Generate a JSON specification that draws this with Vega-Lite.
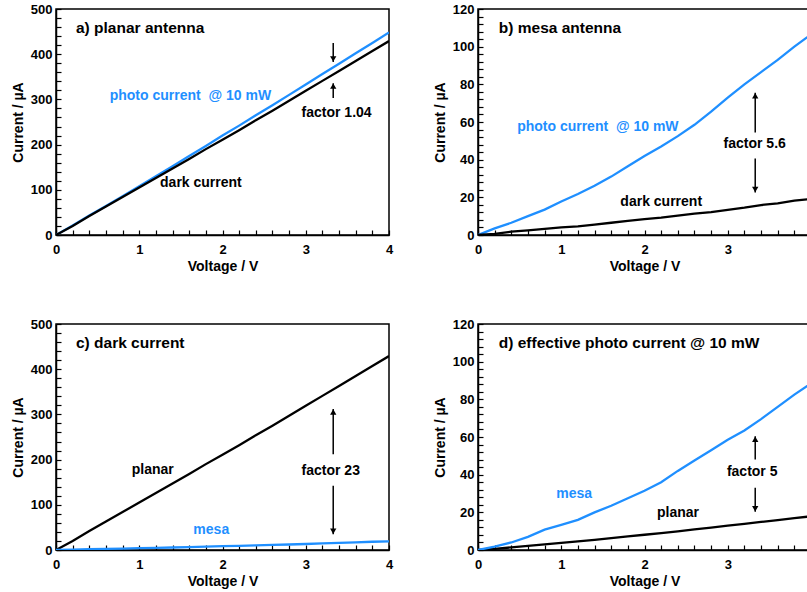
{
  "$schema": "https://vega.github.io/schema/vega-lite/v6.json",
  "padding": {"left": 10, "top": 2, "right": 0, "bottom": 0},
  "background": "white",
  "config": {
    "view": {"stroke": "black", "strokeWidth": 1.5},
    "axis": {
      "domainColor": "black", "domainWidth": 1.5, "tickColor": "black", "tickWidth": 1.2, "tickSize": -5, "tickCount": 60,
      "labelFont": "Liberation Sans", "labelFontWeight": "bold", "labelFontSize": 13, "labelColor": "black",
      "titleFont": "Liberation Sans", "titleFontWeight": "bold", "titleFontSize": 14, "titleColor": "black",
      "grid": false, "labelOverlap": false, "labelBound": false, "labelFlush": false
    },
    "axisX": {"labelPadding": 13, "titlePadding": 3},
    "axisY": {"labelPadding": 9, "titlePadding": 5}
  },
  "datasets": {
    "iv": [
      {"device":"planar","kind":"photo","V":0,"I":0},{"device":"planar","kind":"photo","V":0.2,"I":21},{"device":"planar","kind":"photo","V":0.4,"I":43},{"device":"planar","kind":"photo","V":0.6,"I":64},{"device":"planar","kind":"photo","V":0.8,"I":86},{"device":"planar","kind":"photo","V":1,"I":108},{"device":"planar","kind":"photo","V":1.2,"I":130},{"device":"planar","kind":"photo","V":1.4,"I":152},{"device":"planar","kind":"photo","V":1.6,"I":175},{"device":"planar","kind":"photo","V":1.8,"I":197},{"device":"planar","kind":"photo","V":2,"I":220},{"device":"planar","kind":"photo","V":2.2,"I":242},{"device":"planar","kind":"photo","V":2.4,"I":265},{"device":"planar","kind":"photo","V":2.6,"I":287},{"device":"planar","kind":"photo","V":2.8,"I":310},{"device":"planar","kind":"photo","V":3,"I":333},{"device":"planar","kind":"photo","V":3.2,"I":356},{"device":"planar","kind":"photo","V":3.4,"I":379},{"device":"planar","kind":"photo","V":3.6,"I":402},{"device":"planar","kind":"photo","V":3.8,"I":425},{"device":"planar","kind":"photo","V":4,"I":448},
      {"device":"planar","kind":"dark","V":0,"I":0},{"device":"planar","kind":"dark","V":0.2,"I":20},{"device":"planar","kind":"dark","V":0.4,"I":42},{"device":"planar","kind":"dark","V":0.6,"I":63},{"device":"planar","kind":"dark","V":0.8,"I":84},{"device":"planar","kind":"dark","V":1,"I":105},{"device":"planar","kind":"dark","V":1.2,"I":126},{"device":"planar","kind":"dark","V":1.4,"I":147},{"device":"planar","kind":"dark","V":1.6,"I":168},{"device":"planar","kind":"dark","V":1.8,"I":190},{"device":"planar","kind":"dark","V":2,"I":211},{"device":"planar","kind":"dark","V":2.2,"I":232},{"device":"planar","kind":"dark","V":2.4,"I":254},{"device":"planar","kind":"dark","V":2.6,"I":275},{"device":"planar","kind":"dark","V":2.8,"I":297},{"device":"planar","kind":"dark","V":3,"I":319},{"device":"planar","kind":"dark","V":3.2,"I":341},{"device":"planar","kind":"dark","V":3.4,"I":363},{"device":"planar","kind":"dark","V":3.6,"I":385},{"device":"planar","kind":"dark","V":3.8,"I":407},{"device":"planar","kind":"dark","V":4,"I":429},
      {"device":"mesa","kind":"photo","V":0,"I":0},{"device":"mesa","kind":"photo","V":0.2,"I":3.5},{"device":"mesa","kind":"photo","V":0.4,"I":6.5},{"device":"mesa","kind":"photo","V":0.6,"I":10},{"device":"mesa","kind":"photo","V":0.8,"I":13.5},{"device":"mesa","kind":"photo","V":1,"I":17.8},{"device":"mesa","kind":"photo","V":1.2,"I":21.8},{"device":"mesa","kind":"photo","V":1.4,"I":26.2},{"device":"mesa","kind":"photo","V":1.6,"I":31},{"device":"mesa","kind":"photo","V":1.8,"I":36.5},{"device":"mesa","kind":"photo","V":2,"I":42},{"device":"mesa","kind":"photo","V":2.2,"I":47},{"device":"mesa","kind":"photo","V":2.4,"I":52.5},{"device":"mesa","kind":"photo","V":2.6,"I":58.5},{"device":"mesa","kind":"photo","V":2.8,"I":65.5},{"device":"mesa","kind":"photo","V":3,"I":73},{"device":"mesa","kind":"photo","V":3.2,"I":80},{"device":"mesa","kind":"photo","V":3.4,"I":86.5},{"device":"mesa","kind":"photo","V":3.6,"I":93},{"device":"mesa","kind":"photo","V":3.8,"I":100},{"device":"mesa","kind":"photo","V":4,"I":106.5},
      {"device":"mesa","kind":"dark","V":0,"I":0},{"device":"mesa","kind":"dark","V":0.2,"I":0.6},{"device":"mesa","kind":"dark","V":0.4,"I":1.8},{"device":"mesa","kind":"dark","V":0.6,"I":2.5},{"device":"mesa","kind":"dark","V":0.8,"I":3.2},{"device":"mesa","kind":"dark","V":1,"I":4},{"device":"mesa","kind":"dark","V":1.2,"I":4.6},{"device":"mesa","kind":"dark","V":1.4,"I":5.5},{"device":"mesa","kind":"dark","V":1.6,"I":6.5},{"device":"mesa","kind":"dark","V":1.8,"I":7.5},{"device":"mesa","kind":"dark","V":2,"I":8.4},{"device":"mesa","kind":"dark","V":2.2,"I":9.2},{"device":"mesa","kind":"dark","V":2.4,"I":10.3},{"device":"mesa","kind":"dark","V":2.6,"I":11.3},{"device":"mesa","kind":"dark","V":2.8,"I":12.2},{"device":"mesa","kind":"dark","V":3,"I":13.3},{"device":"mesa","kind":"dark","V":3.2,"I":14.5},{"device":"mesa","kind":"dark","V":3.4,"I":15.9},{"device":"mesa","kind":"dark","V":3.6,"I":16.8},{"device":"mesa","kind":"dark","V":3.8,"I":18.2},{"device":"mesa","kind":"dark","V":4,"I":19.2},
      {"device":"planar","kind":"effective","V":0,"I":0},{"device":"planar","kind":"effective","V":0.2,"I":0.6},{"device":"planar","kind":"effective","V":0.4,"I":1.4},{"device":"planar","kind":"effective","V":0.6,"I":2.2},{"device":"planar","kind":"effective","V":0.8,"I":3},{"device":"planar","kind":"effective","V":1,"I":3.8},{"device":"planar","kind":"effective","V":1.2,"I":4.6},{"device":"planar","kind":"effective","V":1.4,"I":5.4},{"device":"planar","kind":"effective","V":1.6,"I":6.3},{"device":"planar","kind":"effective","V":1.8,"I":7.2},{"device":"planar","kind":"effective","V":2,"I":8.1},{"device":"planar","kind":"effective","V":2.2,"I":9},{"device":"planar","kind":"effective","V":2.4,"I":9.9},{"device":"planar","kind":"effective","V":2.6,"I":10.9},{"device":"planar","kind":"effective","V":2.8,"I":11.9},{"device":"planar","kind":"effective","V":3,"I":12.9},{"device":"planar","kind":"effective","V":3.2,"I":13.9},{"device":"planar","kind":"effective","V":3.4,"I":14.9},{"device":"planar","kind":"effective","V":3.6,"I":15.9},{"device":"planar","kind":"effective","V":3.8,"I":16.9},{"device":"planar","kind":"effective","V":4,"I":17.9},
      {"device":"mesa","kind":"effective","V":0,"I":0},{"device":"mesa","kind":"effective","V":0.2,"I":1.8},{"device":"mesa","kind":"effective","V":0.4,"I":4},{"device":"mesa","kind":"effective","V":0.6,"I":7},{"device":"mesa","kind":"effective","V":0.8,"I":10.8},{"device":"mesa","kind":"effective","V":1,"I":13.3},{"device":"mesa","kind":"effective","V":1.2,"I":16},{"device":"mesa","kind":"effective","V":1.4,"I":20},{"device":"mesa","kind":"effective","V":1.6,"I":23.5},{"device":"mesa","kind":"effective","V":1.8,"I":27.5},{"device":"mesa","kind":"effective","V":2,"I":31.5},{"device":"mesa","kind":"effective","V":2.2,"I":36},{"device":"mesa","kind":"effective","V":2.4,"I":42},{"device":"mesa","kind":"effective","V":2.6,"I":47.5},{"device":"mesa","kind":"effective","V":2.8,"I":53},{"device":"mesa","kind":"effective","V":3,"I":58.5},{"device":"mesa","kind":"effective","V":3.2,"I":63.5},{"device":"mesa","kind":"effective","V":3.4,"I":69.5},{"device":"mesa","kind":"effective","V":3.6,"I":76},{"device":"mesa","kind":"effective","V":3.8,"I":82.5},{"device":"mesa","kind":"effective","V":4,"I":88.5}
    ],
    "notes": [
      {"panel":"a","kind":"title","tone":"note","text":"a) planar antenna","V":0.24,"I":458},
      {"panel":"a","kind":"label","tone":"photo","text":"photo current\u00a0 @ 10 mW","V":0.645,"I":307},
      {"panel":"a","kind":"label","tone":"note","text":"factor 1.04","V":2.95,"I":270},
      {"panel":"a","kind":"label","tone":"dark","text":"dark current","V":1.25,"I":115},
      {"panel":"b","kind":"title","tone":"note","text":"b) mesa antenna","V":0.25,"I":110},
      {"panel":"b","kind":"label","tone":"photo","text":"photo current\u00a0 @ 10 mW","V":0.47,"I":57.5},
      {"panel":"b","kind":"label","tone":"note","text":"factor 5.6","V":2.95,"I":48.2},
      {"panel":"b","kind":"label","tone":"dark","text":"dark current","V":1.71,"I":17.6},
      {"panel":"c","kind":"title","tone":"note","text":"c) dark current","V":0.24,"I":459},
      {"panel":"c","kind":"label","tone":"planar","text":"planar","V":0.91,"I":177},
      {"panel":"c","kind":"label","tone":"note","text":"factor 23","V":2.95,"I":175},
      {"panel":"c","kind":"label","tone":"mesa","text":"mesa","V":1.65,"I":44},
      {"panel":"d","kind":"title","tone":"note","text":"d) effective photo current @ 10 mW","V":0.25,"I":110},
      {"panel":"d","kind":"label","tone":"mesa","text":"mesa","V":0.94,"I":29.5},
      {"panel":"d","kind":"label","tone":"note","text":"factor 5","V":2.99,"I":41.4},
      {"panel":"d","kind":"label","tone":"planar","text":"planar","V":2.15,"I":19.8}
    ],
    "arrows": [
      {"panel":"a","dir":"down","V":3.33,"from":425,"I":383},
      {"panel":"a","dir":"up","V":3.33,"from":303,"I":336},
      {"panel":"b","dir":"up","V":3.33,"from":54.4,"I":75.5},
      {"panel":"b","dir":"down","V":3.33,"from":40.6,"I":22.6},
      {"panel":"c","dir":"up","V":3.33,"from":212,"I":312},
      {"panel":"c","dir":"down","V":3.33,"from":142,"I":35},
      {"panel":"d","dir":"up","V":3.33,"from":48,"I":60.4},
      {"panel":"d","dir":"down","V":3.33,"from":33,"I":20.3}
    ]
  },
  "spacing": 43,
  "vconcat": [
    {
      "spacing": 38,
      "hconcat": [
        {
          "width": 333, "height": 226,
          "encoding": {
            "x":{"field":"V","type":"quantitative","scale":{"domain":[0,4],"nice":false},
                 "axis":{"title":"Voltage / V","tickCount":60,"values":[0,0.2,0.4,0.6,0.8,1,1.2,1.4,1.6,1.8,2,2.2,2.4,2.6,2.8,3,3.2,3.4,3.6,3.8,4],"labelExpr":"datum.value % 1 === 0 ? format(datum.value, 'd') : ''"}},
            "y":{"field":"I","type":"quantitative","scale":{"domain":[0,500],"nice":false},
                 "axis":{"title":"Current / µA","tickCount":60,"values":[0,20,40,60,80,100,120,140,160,180,200,220,240,260,280,300,320,340,360,380,400,420,440,460,480,500],"labelExpr":"datum.value % 100 === 0 ? datum.label : ''","format":"d"}}
          },
          "layer": [
            {"data":{"name":"iv"},"transform":[{"filter":"datum.device === 'planar' && datum.kind !== 'effective'"}],
             "mark":{"type":"line","strokeWidth":2.3,"clip":true},
             "encoding":{"color":{"field":"kind","type":"nominal","scale":{"domain":["photo","dark","mesa","planar","note"],"range":["#1f8fff","#000000","#1f8fff","#000000","#000000"]},"legend":null}}},
            {"data":{"name":"notes"},"transform":[{"filter":"datum.panel === 'a' && datum.kind === 'title'"}],
             "mark":{"type":"text","align":"left","baseline":"middle","font":"Liberation Sans","fontWeight":"bold","fontSize":15.5},
             "encoding":{"text":{"field":"text"},"color":{"field":"tone","type":"nominal","legend":null}}},
            {"data":{"name":"notes"},"transform":[{"filter":"datum.panel === 'a' && datum.kind === 'label'"}],
             "mark":{"type":"text","align":"left","baseline":"middle","font":"Liberation Sans","fontWeight":"bold","fontSize":14},
             "encoding":{"text":{"field":"text"},"color":{"field":"tone","type":"nominal","legend":null}}},
            {"data":{"name":"arrows"},"transform":[{"filter":"datum.panel === 'a'"}],
             "mark":{"type":"rule","strokeWidth":1.5,"color":"black"},
             "encoding":{"y2":{"field":"from"}}},
            {"data":{"name":"arrows"},"transform":[{"filter":"datum.panel === 'a' && datum.dir === 'up'"}],
             "mark":{"type":"point","shape":"triangle-up","filled":true,"color":"black","opacity":1,"size":40,"yOffset":3},
             "encoding":{}},
            {"data":{"name":"arrows"},"transform":[{"filter":"datum.panel === 'a' && datum.dir === 'down'"}],
             "mark":{"type":"point","shape":"triangle-down","filled":true,"color":"black","opacity":1,"size":40,"yOffset":-3},
             "encoding":{}}
          ]
        },
        {
          "width": 333, "height": 226,
          "encoding": {
            "x":{"field":"V","type":"quantitative","scale":{"domain":[0,4],"nice":false},
                 "axis":{"title":"Voltage / V","tickCount":60,"values":[0,0.2,0.4,0.6,0.8,1,1.2,1.4,1.6,1.8,2,2.2,2.4,2.6,2.8,3,3.2,3.4,3.6,3.8,4],"labelExpr":"datum.value % 1 === 0 ? format(datum.value, 'd') : ''"}},
            "y":{"field":"I","type":"quantitative","scale":{"domain":[0,120],"nice":false},
                 "axis":{"title":"Current / µA","tickCount":60,"values":[0,4,8,12,16,20,24,28,32,36,40,44,48,52,56,60,64,68,72,76,80,84,88,92,96,100,104,108,112,116,120],"labelExpr":"datum.value % 20 === 0 ? datum.label : ''","format":"d"}}
          },
          "layer": [
            {"data":{"name":"iv"},"transform":[{"filter":"datum.device === 'mesa' && datum.kind !== 'effective'"}],
             "mark":{"type":"line","strokeWidth":2.3,"clip":true},
             "encoding":{"color":{"field":"kind","type":"nominal","scale":{"domain":["photo","dark","mesa","planar","note"],"range":["#1f8fff","#000000","#1f8fff","#000000","#000000"]},"legend":null}}},
            {"data":{"name":"notes"},"transform":[{"filter":"datum.panel === 'b' && datum.kind === 'title'"}],
             "mark":{"type":"text","align":"left","baseline":"middle","font":"Liberation Sans","fontWeight":"bold","fontSize":15.5},
             "encoding":{"text":{"field":"text"},"color":{"field":"tone","type":"nominal","legend":null}}},
            {"data":{"name":"notes"},"transform":[{"filter":"datum.panel === 'b' && datum.kind === 'label'"}],
             "mark":{"type":"text","align":"left","baseline":"middle","font":"Liberation Sans","fontWeight":"bold","fontSize":14},
             "encoding":{"text":{"field":"text"},"color":{"field":"tone","type":"nominal","legend":null}}},
            {"data":{"name":"arrows"},"transform":[{"filter":"datum.panel === 'b'"}],
             "mark":{"type":"rule","strokeWidth":1.5,"color":"black"},
             "encoding":{"y2":{"field":"from"}}},
            {"data":{"name":"arrows"},"transform":[{"filter":"datum.panel === 'b' && datum.dir === 'up'"}],
             "mark":{"type":"point","shape":"triangle-up","filled":true,"color":"black","opacity":1,"size":40,"yOffset":3},
             "encoding":{}},
            {"data":{"name":"arrows"},"transform":[{"filter":"datum.panel === 'b' && datum.dir === 'down'"}],
             "mark":{"type":"point","shape":"triangle-down","filled":true,"color":"black","opacity":1,"size":40,"yOffset":-3},
             "encoding":{}}
          ]
        }
      ]
    },
    {
      "spacing": 38,
      "hconcat": [
        {
          "width": 333, "height": 226,
          "encoding": {
            "x":{"field":"V","type":"quantitative","scale":{"domain":[0,4],"nice":false},
                 "axis":{"title":"Voltage / V","tickCount":60,"values":[0,0.2,0.4,0.6,0.8,1,1.2,1.4,1.6,1.8,2,2.2,2.4,2.6,2.8,3,3.2,3.4,3.6,3.8,4],"labelExpr":"datum.value % 1 === 0 ? format(datum.value, 'd') : ''"}},
            "y":{"field":"I","type":"quantitative","scale":{"domain":[0,500],"nice":false},
                 "axis":{"title":"Current / µA","tickCount":60,"values":[0,20,40,60,80,100,120,140,160,180,200,220,240,260,280,300,320,340,360,380,400,420,440,460,480,500],"labelExpr":"datum.value % 100 === 0 ? datum.label : ''","format":"d"}}
          },
          "layer": [
            {"data":{"name":"iv"},"transform":[{"filter":"datum.kind === 'dark'"}],
             "mark":{"type":"line","strokeWidth":2.3,"clip":true},
             "encoding":{"color":{"field":"device","type":"nominal","scale":{"domain":["photo","dark","mesa","planar","note"],"range":["#1f8fff","#000000","#1f8fff","#000000","#000000"]},"legend":null}}},
            {"data":{"name":"notes"},"transform":[{"filter":"datum.panel === 'c' && datum.kind === 'title'"}],
             "mark":{"type":"text","align":"left","baseline":"middle","font":"Liberation Sans","fontWeight":"bold","fontSize":15.5},
             "encoding":{"text":{"field":"text"},"color":{"field":"tone","type":"nominal","legend":null}}},
            {"data":{"name":"notes"},"transform":[{"filter":"datum.panel === 'c' && datum.kind === 'label'"}],
             "mark":{"type":"text","align":"left","baseline":"middle","font":"Liberation Sans","fontWeight":"bold","fontSize":14},
             "encoding":{"text":{"field":"text"},"color":{"field":"tone","type":"nominal","legend":null}}},
            {"data":{"name":"arrows"},"transform":[{"filter":"datum.panel === 'c'"}],
             "mark":{"type":"rule","strokeWidth":1.5,"color":"black"},
             "encoding":{"y2":{"field":"from"}}},
            {"data":{"name":"arrows"},"transform":[{"filter":"datum.panel === 'c' && datum.dir === 'up'"}],
             "mark":{"type":"point","shape":"triangle-up","filled":true,"color":"black","opacity":1,"size":40,"yOffset":3},
             "encoding":{}},
            {"data":{"name":"arrows"},"transform":[{"filter":"datum.panel === 'c' && datum.dir === 'down'"}],
             "mark":{"type":"point","shape":"triangle-down","filled":true,"color":"black","opacity":1,"size":40,"yOffset":-3},
             "encoding":{}}
          ]
        },
        {
          "width": 333, "height": 226,
          "encoding": {
            "x":{"field":"V","type":"quantitative","scale":{"domain":[0,4],"nice":false},
                 "axis":{"title":"Voltage / V","tickCount":60,"values":[0,0.2,0.4,0.6,0.8,1,1.2,1.4,1.6,1.8,2,2.2,2.4,2.6,2.8,3,3.2,3.4,3.6,3.8,4],"labelExpr":"datum.value % 1 === 0 ? format(datum.value, 'd') : ''"}},
            "y":{"field":"I","type":"quantitative","scale":{"domain":[0,120],"nice":false},
                 "axis":{"title":"Current / µA","tickCount":60,"values":[0,4,8,12,16,20,24,28,32,36,40,44,48,52,56,60,64,68,72,76,80,84,88,92,96,100,104,108,112,116,120],"labelExpr":"datum.value % 20 === 0 ? datum.label : ''","format":"d"}}
          },
          "layer": [
            {"data":{"name":"iv"},"transform":[{"filter":"datum.kind === 'effective'"}],
             "mark":{"type":"line","strokeWidth":2.3,"clip":true},
             "encoding":{"color":{"field":"device","type":"nominal","scale":{"domain":["photo","dark","mesa","planar","note"],"range":["#1f8fff","#000000","#1f8fff","#000000","#000000"]},"legend":null}}},
            {"data":{"name":"notes"},"transform":[{"filter":"datum.panel === 'd' && datum.kind === 'title'"}],
             "mark":{"type":"text","align":"left","baseline":"middle","font":"Liberation Sans","fontWeight":"bold","fontSize":15.5},
             "encoding":{"text":{"field":"text"},"color":{"field":"tone","type":"nominal","legend":null}}},
            {"data":{"name":"notes"},"transform":[{"filter":"datum.panel === 'd' && datum.kind === 'label'"}],
             "mark":{"type":"text","align":"left","baseline":"middle","font":"Liberation Sans","fontWeight":"bold","fontSize":14},
             "encoding":{"text":{"field":"text"},"color":{"field":"tone","type":"nominal","legend":null}}},
            {"data":{"name":"arrows"},"transform":[{"filter":"datum.panel === 'd'"}],
             "mark":{"type":"rule","strokeWidth":1.5,"color":"black"},
             "encoding":{"y2":{"field":"from"}}},
            {"data":{"name":"arrows"},"transform":[{"filter":"datum.panel === 'd' && datum.dir === 'up'"}],
             "mark":{"type":"point","shape":"triangle-up","filled":true,"color":"black","opacity":1,"size":40,"yOffset":3},
             "encoding":{}},
            {"data":{"name":"arrows"},"transform":[{"filter":"datum.panel === 'd' && datum.dir === 'down'"}],
             "mark":{"type":"point","shape":"triangle-down","filled":true,"color":"black","opacity":1,"size":40,"yOffset":-3},
             "encoding":{}}
          ]
        }
      ]
    }
  ]
}
